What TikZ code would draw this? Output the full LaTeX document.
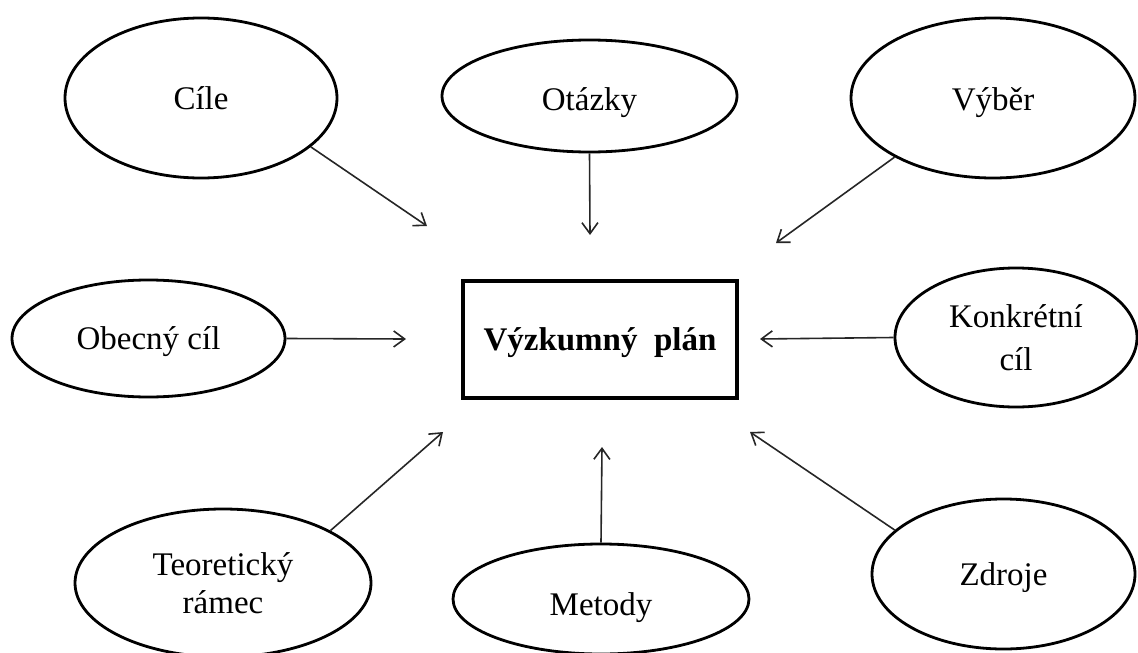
\documentclass[tikz,border=0pt]{standalone}
\usepackage{fontspec}
\setmainfont{Liberation Serif}
\usetikzlibrary{shapes.geometric,arrows.meta}
\begin{document}
\begin{tikzpicture}[x=1pt,y=-1pt,
  topic/.style={draw, ellipse, line width=2.8pt, inner sep=0pt, align=center,
    font=\fontsize{33}{43}\selectfont},
  oneline/.style={text depth=8pt, text height={8pt+2*#1}},
  planbox/.style={draw, rectangle, line width=3.5pt, inner sep=0pt,
    minimum width=274pt, minimum height=117pt,
    text depth=8pt, text height=29pt,
    font=\fontsize{33}{40}\selectfont\bfseries},
  link/.style={line width=1.6pt, draw=black!85,
    -{Straight Barb[length=11pt,width=16pt,line width=1.6pt]}}]
\useasboundingbox (0,0) rectangle (1138,653);

% central box
\node[planbox] (plan) at (600,339.5) {Výzkumný\ \ plán};

% surrounding topics
\node[topic, oneline=11, minimum width=272pt, minimum height=160pt] (cile)   at (201,98)    {Cíle};
\node[topic, oneline=14, minimum width=295pt, minimum height=112pt] (otazky) at (589.5,96)  {Otázky};
\node[topic, oneline=12, minimum width=284pt, minimum height=160pt] (vyber)  at (993,98)    {Výběr};
\node[topic, oneline=11, minimum width=273pt, minimum height=117pt] (obecny) at (148.5,338.5) {Obecný cíl};
\node[topic, minimum width=242pt, minimum height=139pt] (konkr)  at (1016,337.5) {Konkrétní\\cíl};
\node[topic, font=\fontsize{33}{38}\selectfont, minimum width=296pt, minimum height=148pt] (teor) at (223,583) {Teoretický\\rámec};
\node[topic, oneline=16, minimum width=296pt, minimum height=110pt] (metody) at (601,599)   {Metody};
\node[topic, oneline=11, minimum width=263pt, minimum height=150pt] (zdroje) at (1003.5,574) {Zdroje};

% arrow tips around the box
\coordinate (tA) at (427,226);
\coordinate (tB) at (590,235);
\coordinate (tC) at (776,243);
\coordinate (tD) at (406,339);
\coordinate (tE) at (760,339);
\coordinate (tF) at (443,432);
\coordinate (tG) at (602,447);
\coordinate (tH) at (750,432);

\draw[link] (cile.-24)    -- (tA);
\draw[link] (otazky.south) -- (tB);
\draw[link] (vyber.-149)  -- (tC);
\draw[link] (obecny.east) -- (tD);
\draw[link] (konkr.west)  -- (tE);
\draw[link] (teor.26)     -- (tF);
\draw[link] (metody.north) -- (tG);
\draw[link] (zdroje.158)  -- (tH);
\end{tikzpicture}
\end{document}
